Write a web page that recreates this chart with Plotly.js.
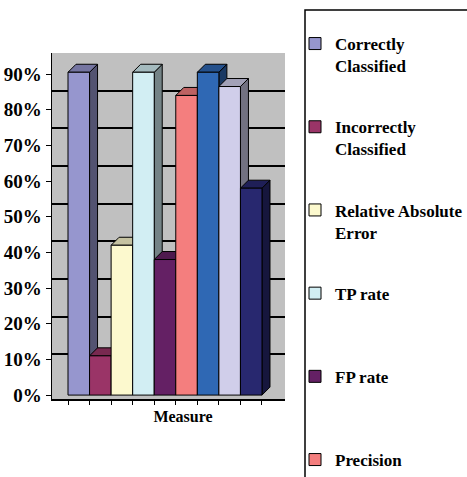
<!DOCTYPE html>
<html>
<head>
<meta charset="utf-8">
<script src="https://cdn.plot.ly/plotly-3.0.1.min.js"></script>
<style>html,body{margin:0;padding:0;background:#fff;}#chart{width:467px;height:477px;}</style>
</head>
<body>
<div id="chart"></div>
<script>
// ---- data ----
const categories = ['Measure'];
const seriesNames = ['Correctly Classified', 'Incorrectly Classified', 'Relative Absolute Error', 'TP rate', 'FP rate', 'Precision', 'Recall', 'F-Measure', 'ROC Area'];
const legendLabels = ['Correctly<br>Classified', 'Incorrectly<br>Classified', 'Relative Absolute<br>Error', 'TP rate<br>&nbsp;', 'FP rate<br>&nbsp;', 'Precision', 'Recall', 'F-Measure', 'ROC Area'];
const values = [0.905, 0.11, 0.42, 0.905, 0.38, 0.84, 0.905, 0.865, 0.58];
const inLegend = [true, true, true, true, true, true, false, false, false];
const tickVals = [0, 0.1, 0.2, 0.3, 0.4, 0.5, 0.6, 0.7, 0.8, 0.9];
const tickLabels = ['0%', '10%', '20%', '30%', '40%', '50%', '60%', '70%', '80%', '90%'];
const backGridVals = [0.1, 0.2, 0.3, 0.4, 0.5, 0.6, 0.7, 0.8, 0.9];

// ---- style ----
const colors = ['#9696CE', '#9A3467', '#FCF9CE', '#D2EEF3', '#642064', '#F47E7E', '#2F68B4', '#D0CEEA', '#28286F'];
const W = 467, H = 477;
const M = {l: 52, r: 182, t: 53, b: 78};
const plotW = W - M.l - M.r, plotH = H - M.t - M.b;
const xRange = [-0.5825, 0.6186];
const yRange = [-0.011, 0.959];
const backRange = [-0.0186, 0.9];
const depthPx = {x: 8, y: 8};
const serif = 'Liberation Serif, Times New Roman, serif';

function shade(hex, f) {
  const n = parseInt(hex.slice(1), 16);
  const r = Math.round(((n >> 16) & 255) * f), g = Math.round(((n >> 8) & 255) * f), b = Math.round((n & 255) * f);
  return 'rgb(' + r + ',' + g + ',' + b + ')';
}

const pxPerX = plotW / (xRange[1] - xRange[0]);
const pxPerY = plotH / (yRange[1] - yRange[0]);
const dX = depthPx.x / pxPerX, dY = depthPx.y / pxPerY;
const nBars = values.length;
const barW = 1 / nBars;

const traces = [];
// empty trace so the back-wall grid axis gets its subplot
traces.push({type: 'scatter', mode: 'lines', xaxis: 'x', yaxis: 'y3', x: [], y: [], showlegend: false, hoverinfo: 'skip'});
// 3D side and top faces (drawn beneath the bar fronts)
values.forEach((v, i) => {
  const xl = -0.5 + i * barW, xr = xl + barW;
  traces.push({
    type: 'scatter', mode: 'lines', xaxis: 'x', yaxis: 'y',
    x: [xr, xr + dX, xr + dX, xr, xr], y: [0, dY, v + dY, v, 0],
    fill: 'toself', fillcolor: shade(colors[i], 0.55),
    line: {color: '#000', width: 1}, showlegend: false, hoverinfo: 'skip'
  });
  traces.push({
    type: 'scatter', mode: 'lines', xaxis: 'x', yaxis: 'y',
    x: [xl, xl + dX, xr + dX, xr, xl], y: [v, v + dY, v + dY, v, v],
    fill: 'toself', fillcolor: shade(colors[i], 0.78),
    line: {color: '#000', width: 1}, showlegend: false, hoverinfo: 'skip'
  });
});
// bar fronts
values.forEach((v, i) => {
  traces.push({
    type: 'bar', xaxis: 'x2', yaxis: 'y2',
    x: categories, y: [v], name: legendLabels[i], legendgroup: 'g' + i,
    showlegend: inLegend[i],
    marker: {color: colors[i], line: {color: '#000', width: 1}},
    hovertemplate: seriesNames[i] + ': %{y:.1%}<extra></extra>'
  });
});

const boundaryTicks = [];
for (let k = 0; k <= nBars; k++) boundaryTicks.push(-0.5 + k * barW);

const layout = {
  width: W, height: H,
  margin: {l: M.l, r: M.r, t: M.t, b: M.b, pad: 0, autoexpand: false},
  paper_bgcolor: '#fff', plot_bgcolor: '#c0c0c0',
  font: {family: serif, size: 17, color: '#000', weight: 'bold'},
  barmode: 'group', bargap: 0, bargroupgap: 0,
  xaxis: {type: 'linear', range: xRange, showgrid: false, zeroline: false,
    showline: true, linecolor: '#000', linewidth: 1.5,
    tickvals: boundaryTicks, ticks: 'outside', ticklen: 4, tickcolor: '#000',
    showticklabels: false, fixedrange: true},
  xaxis2: {type: 'category', overlaying: 'x', anchor: 'y2', side: 'bottom', range: xRange,
    showgrid: false, zeroline: false, showline: false, ticks: '',
    ticklabelshift: 18, ticklabelstandoff: 6,
    tickfont: {family: serif, size: 16, color: '#000', weight: 'bold'}, fixedrange: true},
  yaxis: {range: yRange, tickvals: tickVals, ticktext: tickLabels,
    showgrid: false, zeroline: false, showline: true, linecolor: '#000', linewidth: 1.5,
    ticks: 'outside', ticklen: 5, tickcolor: '#000',
    tickfont: {family: serif, size: 19, color: '#000', weight: 'bold'}, fixedrange: true},
  yaxis2: {range: yRange, overlaying: 'y', anchor: 'x2', visible: false, fixedrange: true},
  yaxis3: {range: backRange, overlaying: 'y', anchor: 'x', side: 'left', tickvals: backGridVals,
    showticklabels: false, ticks: '', showgrid: true, gridcolor: '#000', gridwidth: 2,
    zeroline: false, showline: false, fixedrange: true},
  legend: {x: (295 - M.l) / plotW, xanchor: 'left', y: (H - M.b - 26) / plotH, yanchor: 'top',
    bgcolor: 'rgba(0,0,0,0)', borderwidth: 0, traceorder: 'grouped', tracegroupgap: 36,
    valign: 'top', maxheight: 2000,
    font: {family: serif, size: 17, color: '#000', weight: 'bold'}},
  shapes: [{type: 'rect', xref: 'paper', yref: 'paper', layer: 'above',
    x0: (305 - M.l) / plotW, x1: 2, y0: -0.5, y1: (H - M.b - 10) / plotH,
    line: {color: '#000', width: 1.5}, fillcolor: '#fff'}],
  showlegend: true
};

Plotly.newPlot('chart', traces, layout, {displayModeBar: false, staticPlot: true});
</script>
</body>
</html>
